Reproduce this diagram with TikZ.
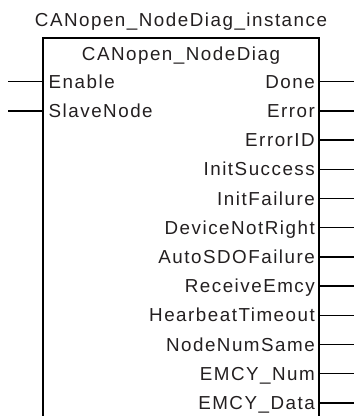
\documentclass[tikz,border=0pt]{standalone}
\usepackage{fontspec}
\setmainfont{Liberation Sans}[LetterSpace=8]
\definecolor{txt}{HTML}{231F20}
\begin{document}
\begin{tikzpicture}[x=1pt,y=-1pt,
  lbl/.style={inner sep=0pt,font=\fontsize{18.8}{20}\selectfont,text=txt},
  inl/.style={lbl,anchor=base west},
  outl/.style={lbl,anchor=base east},
  wire/.style={line width=1.3pt,draw=black},
  boxline/.style={line width=1.5pt,draw=black}]
\useasboundingbox (0,0) rectangle (354,416);
% box
\coordinate (bl) at (43,417);
\coordinate (tl) at (43,38);
\coordinate (tr) at (319,38);
\coordinate (br) at (319,417);
\draw[boxline] (bl) -- (tl) -- (tr) -- (br);
\node[lbl,anchor=base] (title) at (181,26.7) {CANopen\_NodeDiag\_instance};
\node[lbl,anchor=base] (head) at (181,60) {CANopen\_NodeDiag};
% inputs
\foreach \name/\txt/\i in {en/Enable/0, sn/SlaveNode/1}{
  \node[inl] (\name) at (48.5,88.3+29.2*\i) {\txt};
  \coordinate (\name L) at (8,81.7+29.2*\i);
  \coordinate (\name R) at (43,81.7+29.2*\i);
  \draw[wire] (\name L) -- (\name R);
}
% outputs
\foreach \name/\txt/\i in {o0/Done/0, o1/Error/1, o2/ErrorID/2, o3/InitSuccess/3,
  o4/InitFailure/4, o5/DeviceNotRight/5, o6/AutoSDOFailure/6, o7/ReceiveEmcy/7,
  o8/HearbeatTimeout/8, o9/NodeNumSame/9, o10/EMCY\_Num/10, o11/EMCY\_Data/11}{
  \node[outl] (\name) at (315,88.3+29.2*\i) {\txt};
  \coordinate (\name L) at (319,81.7+29.2*\i);
  \coordinate (\name R) at (354,81.7+29.2*\i);
  \draw[wire] (\name L) -- (\name R);
}
\end{tikzpicture}
\end{document}
